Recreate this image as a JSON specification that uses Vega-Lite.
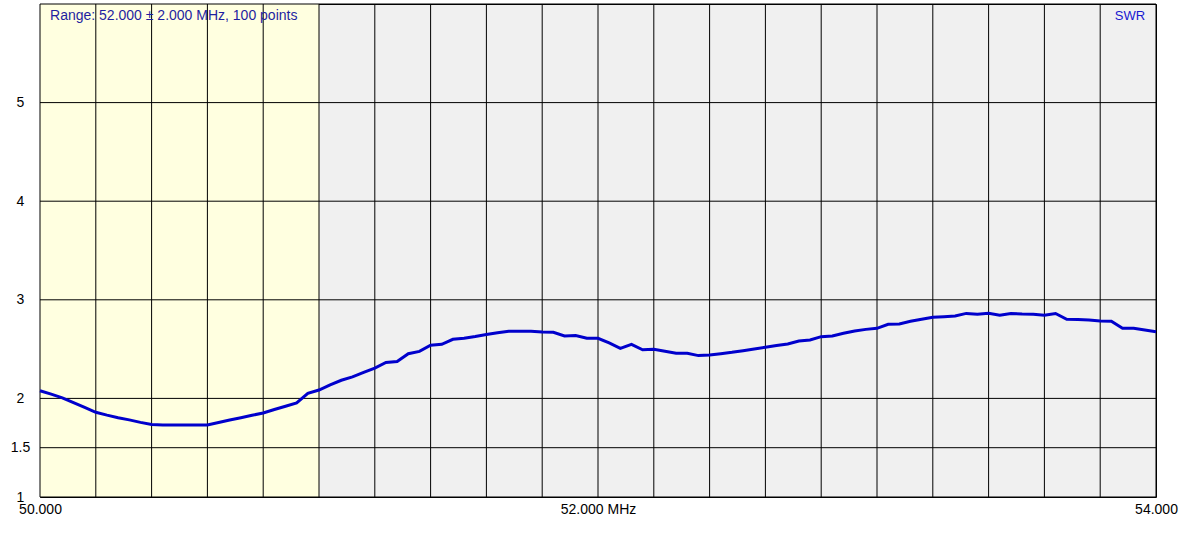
{
  "$schema": "https://vega.github.io/schema/vega-lite/v6.json",
  "width": 1116,
  "height": 493,
  "autosize": {"type": "none"},
  "padding": {"left": 40, "top": 4, "right": 23, "bottom": 43},
  "background": "#FFFFFF",
  "config": {
    "view": {"fill": "#F0F0F0", "stroke": "#000000", "strokeWidth": 1},
    "font": "Liberation Sans"
  },
  "datasets": {
    "band": [{"f": 50, "f2": 51}],
    "vgrid": [{"f": 50}, {"f": 50.2}, {"f": 50.4}, {"f": 50.6}, {"f": 50.8}, {"f": 51}, {"f": 51.2}, {"f": 51.4}, {"f": 51.6}, {"f": 51.8}, {"f": 52}, {"f": 52.2}, {"f": 52.4}, {"f": 52.6}, {"f": 52.8}, {"f": 53}, {"f": 53.2}, {"f": 53.4}, {"f": 53.6}, {"f": 53.8}, {"f": 54}],
    "hgrid": [{"swr": 1}, {"swr": 1.5}, {"swr": 2}, {"swr": 3}, {"swr": 4}, {"swr": 5}, {"swr": 6}],
    "sweep": [
      {"f": 50.00, "swr": 2.078}, {"f": 50.04, "swr": 2.043}, {"f": 50.08, "swr": 2.006}, {"f": 50.12, "swr": 1.957},
      {"f": 50.16, "swr": 1.909}, {"f": 50.20, "swr": 1.859}, {"f": 50.24, "swr": 1.830}, {"f": 50.28, "swr": 1.804},
      {"f": 50.32, "swr": 1.782}, {"f": 50.36, "swr": 1.757}, {"f": 50.40, "swr": 1.736}, {"f": 50.44, "swr": 1.730},
      {"f": 50.48, "swr": 1.730}, {"f": 50.52, "swr": 1.730}, {"f": 50.56, "swr": 1.730}, {"f": 50.60, "swr": 1.730},
      {"f": 50.64, "swr": 1.755}, {"f": 50.68, "swr": 1.781}, {"f": 50.72, "swr": 1.804}, {"f": 50.76, "swr": 1.829},
      {"f": 50.80, "swr": 1.852}, {"f": 50.84, "swr": 1.887}, {"f": 50.88, "swr": 1.921}, {"f": 50.92, "swr": 1.955},
      {"f": 50.96, "swr": 2.051}, {"f": 51.00, "swr": 2.085}, {"f": 51.04, "swr": 2.138}, {"f": 51.08, "swr": 2.184},
      {"f": 51.12, "swr": 2.218}, {"f": 51.16, "swr": 2.263}, {"f": 51.20, "swr": 2.308}, {"f": 51.24, "swr": 2.364},
      {"f": 51.28, "swr": 2.374}, {"f": 51.32, "swr": 2.453}, {"f": 51.36, "swr": 2.477}, {"f": 51.40, "swr": 2.540},
      {"f": 51.44, "swr": 2.548}, {"f": 51.48, "swr": 2.599}, {"f": 51.52, "swr": 2.610}, {"f": 51.56, "swr": 2.627},
      {"f": 51.60, "swr": 2.649}, {"f": 51.64, "swr": 2.666}, {"f": 51.68, "swr": 2.681}, {"f": 51.72, "swr": 2.681},
      {"f": 51.76, "swr": 2.681}, {"f": 51.80, "swr": 2.673}, {"f": 51.84, "swr": 2.670}, {"f": 51.88, "swr": 2.633},
      {"f": 51.92, "swr": 2.637}, {"f": 51.96, "swr": 2.610}, {"f": 52.00, "swr": 2.610}, {"f": 52.04, "swr": 2.562},
      {"f": 52.08, "swr": 2.508}, {"f": 52.12, "swr": 2.548}, {"f": 52.16, "swr": 2.493}, {"f": 52.20, "swr": 2.498},
      {"f": 52.24, "swr": 2.479}, {"f": 52.28, "swr": 2.458}, {"f": 52.32, "swr": 2.458}, {"f": 52.36, "swr": 2.434},
      {"f": 52.40, "swr": 2.440}, {"f": 52.44, "swr": 2.453}, {"f": 52.48, "swr": 2.467}, {"f": 52.52, "swr": 2.484},
      {"f": 52.56, "swr": 2.501}, {"f": 52.60, "swr": 2.518}, {"f": 52.64, "swr": 2.536}, {"f": 52.68, "swr": 2.552},
      {"f": 52.72, "swr": 2.582}, {"f": 52.76, "swr": 2.592}, {"f": 52.80, "swr": 2.626}, {"f": 52.84, "swr": 2.633},
      {"f": 52.88, "swr": 2.661}, {"f": 52.92, "swr": 2.684}, {"f": 52.96, "swr": 2.700}, {"f": 53.00, "swr": 2.711},
      {"f": 53.04, "swr": 2.752}, {"f": 53.08, "swr": 2.755}, {"f": 53.12, "swr": 2.782}, {"f": 53.16, "swr": 2.803},
      {"f": 53.20, "swr": 2.823}, {"f": 53.24, "swr": 2.829}, {"f": 53.28, "swr": 2.835}, {"f": 53.32, "swr": 2.862},
      {"f": 53.36, "swr": 2.853}, {"f": 53.40, "swr": 2.863}, {"f": 53.44, "swr": 2.843}, {"f": 53.48, "swr": 2.862},
      {"f": 53.52, "swr": 2.855}, {"f": 53.56, "swr": 2.853}, {"f": 53.60, "swr": 2.843}, {"f": 53.64, "swr": 2.861},
      {"f": 53.68, "swr": 2.802}, {"f": 53.72, "swr": 2.800}, {"f": 53.76, "swr": 2.795}, {"f": 53.80, "swr": 2.785},
      {"f": 53.84, "swr": 2.782}, {"f": 53.88, "swr": 2.711}, {"f": 53.92, "swr": 2.711}, {"f": 53.96, "swr": 2.694},
      {"f": 54.00, "swr": 2.676}
    ],
    "info": [{"label": "Range: 52.000 ± 2.000 MHz, 100 points"}],
    "legend": [{"label": "SWR"}]
  },
  "layer": [
    {
      "data": {"name": "band"},
      "mark": {"type": "rect", "color": "#FFFFE0"},
      "encoding": {
        "x": {
          "field": "f", "type": "quantitative",
          "scale": {"domain": [50, 54], "nice": false, "zero": false},
          "axis": {
            "title": null, "values": [50, 52, 54], "grid": false, "ticks": false, "tickSize": 0, "domain": false,
            "labelFontSize": 14, "labelColor": "#000000", "labelPadding": 5, "labelFlush": false,
            "labelExpr": "datum.value == 52 ? '52.000 MHz' : format(datum.value, '.3f')",
            "encode": {"labels": {"update": {"dx": {"signal": "datum.value == 54 ? -8 : 0"}}}}
          }
        },
        "x2": {"field": "f2"}
      }
    },
    {
      "data": {"name": "vgrid"},
      "mark": {"type": "rule", "color": "#000000", "strokeWidth": 1},
      "encoding": {"x": {"field": "f", "type": "quantitative"}}
    },
    {
      "data": {"name": "hgrid"},
      "mark": {"type": "rule", "color": "#000000", "strokeWidth": 1},
      "encoding": {
        "y": {
          "field": "swr", "type": "quantitative",
          "scale": {"domain": [1, 6], "nice": false, "zero": false},
          "axis": {
            "title": null, "values": [1, 1.5, 2, 3, 4, 5], "grid": false, "ticks": false, "tickSize": 0, "domain": false,
            "labelFontSize": 14, "labelColor": "#000000", "labelPadding": 20, "labelAlign": "center",
            "labelBaseline": "middle", "labelFlush": false,
            "labelExpr": "datum.value == 1.5 ? '1.5' : format(datum.value, 'd')",
            "encode": {"labels": {"update": {"dy": {"signal": "datum.value == 1 ? -7 : 1"}}}}
          }
        }
      }
    },
    {
      "data": {"name": "sweep"},
      "mark": {"type": "line", "color": "#0000CC", "strokeWidth": 3},
      "encoding": {
        "x": {"field": "f", "type": "quantitative"},
        "y": {"field": "swr", "type": "quantitative"}
      }
    },
    {
      "data": {"name": "info"},
      "mark": {"type": "text", "align": "left", "baseline": "middle", "fontSize": 14, "color": "#1F1FA0"},
      "encoding": {
        "x": {"datum": 50.036, "type": "quantitative"},
        "y": {"datum": 5.878, "type": "quantitative"},
        "text": {"field": "label"}
      }
    },
    {
      "data": {"name": "legend"},
      "mark": {"type": "text", "align": "right", "baseline": "middle", "fontSize": 13, "color": "#1818D0"},
      "encoding": {
        "x": {"datum": 53.961, "type": "quantitative"},
        "y": {"datum": 5.878, "type": "quantitative"},
        "text": {"field": "label"}
      }
    }
  ]
}
